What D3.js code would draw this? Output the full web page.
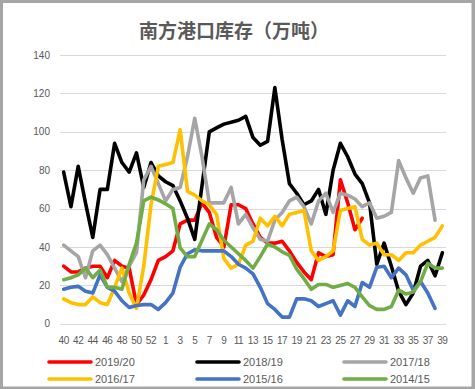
<!DOCTYPE html>
<html>
<head>
<meta charset="utf-8">
<script src="https://cdnjs.cloudflare.com/ajax/libs/d3/7.8.5/d3.min.js"></script>
<style>
  body { margin: 0; background: #fff; }
  text { font-family: "Liberation Sans", "DejaVu Sans", sans-serif; fill: #595959; }
</style>
</head>
<body>
<div id="chart"></div>
<script>
// weeks: 40..53 then 1..39
var weeks = ["40","41","42","43","44","45","46","47","48","49","50","51","52","53",
    "1","2","3","4","5","6","7","8","9","10","11","12","13","14","15","16","17","18","19","20",
    "21","22","23","24","25","26","27","28","29","30","31","32","33","34","35","36","37","38","39"];

var yTicks = [0, 20, 40, 60, 80, 100, 120, 140];

var s2019 = [30,27,27,29,30,30,24,33,30,29,10,15,23,33,35,38,52,54,54,63,58,45,40,62,62,60,52,45,42,42,
    43,38,32,27,23,37,35,36,75,63,49,55,null,null,null,null,null,null,null,null,null,null,null];
var s2018 = [79,61,82,63,45,70,70,94,84,79,89,71,84,77,74,72,64,55,44,72,100,102,104,105,106,108,97,93,95,123,
    96,73,68,62,64,70,57,80,94,87,78,73,63,31,42,30,17,10,16,30,33,25,37];
var s2017 = [41,38,35,24,38,41,36,29,22,30,37,75,82,73,64,70,71,87,107,87,63,63,63,71,52,57,50,44,43,54,
    58,64,66,61,52,64,68,58,68,67,65,61,63,55,56,58,85,76,68,76,77,54,null];
var s2016 = [13,11,10,10,14,11,10,19,29,16,8,30,62,82,83,84,101,69,67,64,62,57,34,29,31,41,43,55,51,56,
    51,57,58,59,38,33,35,38,59,60,61,44,41,42,36,36,33,37,37,41,43,45,51];
var s2015 = [18,19,19.5,17,16,25.5,19,17,12,8.5,9.5,10,10,7.5,11,16,29.5,36.5,38.5,38,38,38,38,35,31,29,26,19,10.5,7.5,
    3.5,3.5,13,13,12,9,10.5,12,4.5,12,9,21.5,19,29.5,30,24,29,25.5,17.5,22,16,8,null];
var s2014 = [23,24,25.5,29,24,28,19,19,18,31,42,64,66,64.5,62.5,60,39.5,35,35,43.5,52,49,43.5,40,36.5,33,29,35,41.5,40,
    37.5,35.7,28.5,23.5,18,20.5,20.5,19,20,21,19,14,9.5,7.5,7.5,9,17.5,15.5,16.5,22,31.5,29,29];

var seriesNames = ["2019/20", "2018/19", "2017/18", "2016/17", "2015/16", "2014/15"];
var seriesColors = ["#FF0000", "#000000", "#A5A5A5", "#FFC000", "#4472C4", "#70AD47"];
var seriesValues = [s2019, s2018, s2017, s2016, s2015, s2014];

var width = 475, height = 389;
var margin = { top: 55, right: 29, bottom: 65.2, left: 60 };

var svg = d3.select("#chart")
    .append("svg")
    .attr("width", width)
    .attr("height", height);

// outer frame
svg.append("rect")
    .attr("x", 0).attr("y", 0)
    .attr("width", width).attr("height", height)
    .style("fill", "#A6A6A6");
svg.append("rect")
    .attr("x", 3).attr("y", 3)
    .attr("width", width - 6.5).attr("height", height - 5.5)
    .style("fill", "#ffffff");

var x = d3.scaleBand()
    .domain(weeks)
    .range([margin.left, width - margin.right]);

var y = d3.scaleLinear()
    .domain([0, 140])
    .range([height - margin.bottom, margin.top]);

// gridlines
svg.selectAll(".grid")
    .data(yTicks)
    .enter()
    .append("line")
    .attr("x1", margin.left)
    .attr("x2", width - margin.right)
    .attr("y1", function (d) { return Math.round(y(d)) + 0.5; })
    .attr("y2", function (d) { return Math.round(y(d)) + 0.5; })
    .style("stroke", "#D9D9D9")
    .style("stroke-width", 1);

// y labels
svg.selectAll(".ylab")
    .data(yTicks)
    .enter()
    .append("text")
    .attr("x", 50)
    .attr("y", function (d) { return y(d) + 3.5; })
    .attr("text-anchor", "end")
    .style("font-size", "10px")
    .text(function (d) { return d; });

// x labels, every other week
svg.selectAll(".xlab")
    .data(weeks.filter(function (d, i) { return i % 2 === 0; }))
    .enter()
    .append("text")
    .attr("x", function (d) { return x(d) + x.bandwidth() / 2; })
    .attr("y", 344)
    .attr("text-anchor", "middle")
    .style("font-size", "10px")
    .style("letter-spacing", "-0.4px")
    .text(function (d) { return d; });

var line = d3.line()
    .defined(function (d) { return d != null; })
    .x(function (d, i) { return x(weeks[i]) + x.bandwidth() / 2; })
    .y(function (d) { return y(d); });

svg.selectAll(".series")
    .data(seriesValues)
    .enter()
    .append("path")
    .attr("d", function (d) { return line(d); })
    .style("fill", "none")
    .style("stroke", function (d, i) { return seriesColors[i]; })
    .style("stroke-width", 3.6)
    .style("stroke-linejoin", "round")
    .style("stroke-linecap", "round");

// title
svg.append("text")
    .attr("x", 234)
    .attr("y", 38)
    .attr("text-anchor", "middle")
    .style("font-family", "'Noto Sans CJK SC', sans-serif")
    .style("font-size", "19px")
    .style("font-weight", "bold")
    .style("fill", "#595959")
    .text("南方港口库存（万吨）");

// legend
var legX = [49, 197, 344];
var legY = [362, 379];

var leg = svg.selectAll(".leg")
    .data(seriesNames)
    .enter()
    .append("g")
    .attr("transform", function (d, i) { return "translate(" + legX[i % 3] + "," + legY[Math.floor(i / 3)] + ")"; });

leg.append("line")
    .attr("x1", 0).attr("x2", 42)
    .attr("y1", 0).attr("y2", 0)
    .style("stroke", function (d, i) { return seriesColors[i]; })
    .style("stroke-width", 3.6)
    .style("stroke-linecap", "round");

leg.append("text")
    .attr("x", 46)
    .attr("y", 4)
    .style("font-size", "11px")
    .text(function (d) { return d; });
</script>
</body>
</html>
